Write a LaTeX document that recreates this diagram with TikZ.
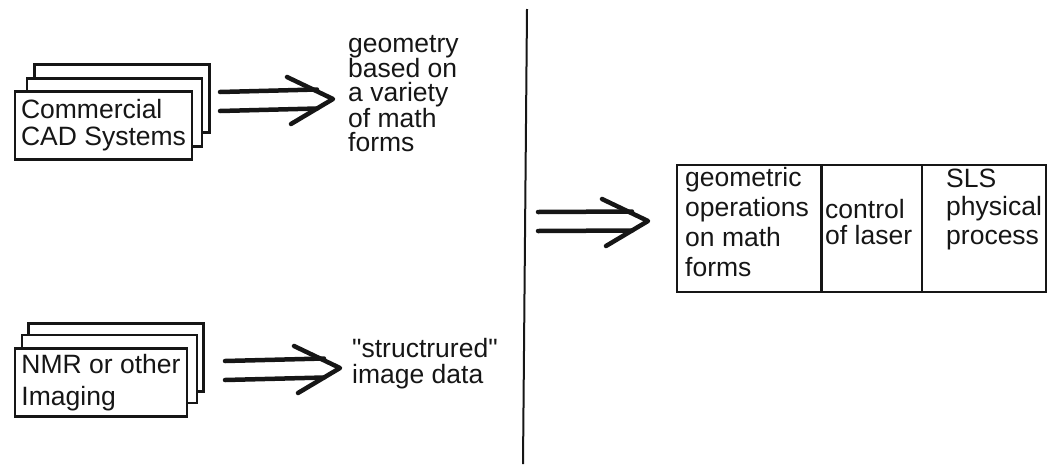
\documentclass[tikz,border=0pt]{standalone}
\usepackage{fontspec}
\setmainfont{Liberation Sans}[Ligatures=TeXOff]
\usetikzlibrary{positioning}
\definecolor{FabInk}{RGB}{22,22,22}
\tikzset{
  fab/card/.style={
    draw=FabInk,
    line width=2.6pt,
    fill=white,
    minimum width=175pt,
    minimum height=68pt,
    inner sep=0pt,
    outer sep=0pt
  },
  fab/cardtext/.style={
    fab/card,
    align=left,
    text=FabInk,
    font=\fontsize{26.5}{27}\selectfont
  },
  fab/cell/.style={
    draw=FabInk,
    line width=2.6pt,
    minimum height=127pt,
    inner sep=0pt,
    outer sep=0pt
  },
  fab/label/.style={anchor=base west, align=left, inner sep=0pt, text=FabInk},
  fab/fatline/.style={draw=FabInk, line width=4.5pt, line cap=round, line join=round},
  fab/rule/.style={draw=FabInk, line width=2pt}
}
\newcommand{\fatarrow}[2]{%
  \draw[fab/fatline] ([yshift=9.5pt]#1) -- ([xshift=-16pt,yshift=9.5pt]#2);
  \draw[fab/fatline] ([yshift=-9.5pt]#1) -- ([xshift=-16pt,yshift=-9.5pt]#2);
  \draw[fab/fatline] ([xshift=-46pt,yshift=22pt]#2) -- (#2) -- ([xshift=-42pt,yshift=-25pt]#2);
}

\begin{document}
\begin{tikzpicture}[x=1pt,y=-1pt]
  \useasboundingbox (0,0) rectangle (1049,464);
  % sources
  \node[fab/card] (cadback) at (122,98.5) {};
  \node[fab/card] (cadmid) at (114.5,112.5) {};
  \node[fab/cardtext,minimum width=177pt] (cad) at (103.5,125.5) {Commercial\\CAD Systems};
  \node[fab/card] (nmrback) at (116,357.5) {};
  \node[fab/card] (nmrmid) at (109.5,369) {};
  \node[fab/cardtext,minimum width=172pt,font=\fontsize{26.5}{32}\selectfont] (nmr) at (101,382.5) {NMR or other\\Imaging};
  % what they give (base = last line)
  \node[fab/label,font=\fontsize{26.5}{23.8}\selectfont] (geom) at (348,151) {geometry\\based on\\a variety\\of math\\forms};
  \node[fab/label,font=\fontsize{26.5}{26}\selectfont] (img) at (352,383) {"structrured"\\image data};
  \coordinate (cadtail) at (220,101.5);
  \coordinate (cadtip) at (333,99);
  \coordinate (nmrtail) at (225,370.5);
  \coordinate (nmrtip) at (340,368);
  \fatarrow{cadtail}{cadtip}
  \fatarrow{nmrtail}{nmrtip}
  \draw[fab/rule] (527,9) -- (523,464);
  % process block
  \coordinate (midtail) at (538,221.5);
  \coordinate (midtip) at (648,221);
  \fatarrow{midtail}{midtip}
  \node[fab/cell,minimum width=144.5pt,anchor=north west] (ops) at (677,165) {};
  \node[fab/cell,minimum width=100.5pt,right=0pt of ops] (laser) {};
  \node[fab/cell,minimum width=124pt,right=0pt of laser] (sls) {};
  \node[fab/label,font=\fontsize{26.5}{30}\selectfont] (opstext) at (685,276) {geometric\\operations\\on math\\forms};
  \node[fab/label,font=\fontsize{26.5}{26}\selectfont] (lasertext) at (825,244) {control\\of laser};
  \node[fab/label,font=\fontsize{26.5}{28.5}\selectfont] (slstext) at (946,244) {SLS\\physical\\process};
\end{tikzpicture}
\end{document}
